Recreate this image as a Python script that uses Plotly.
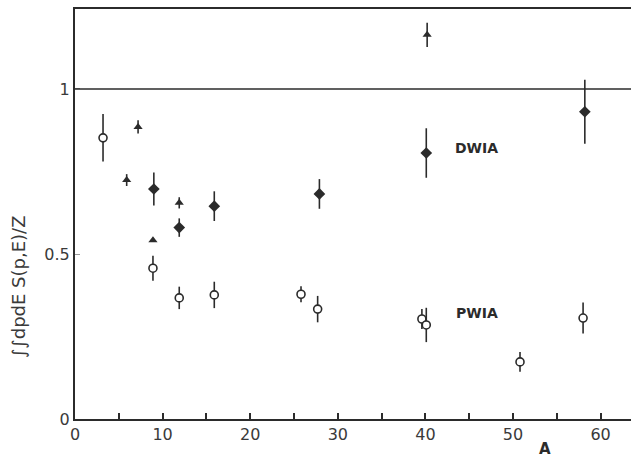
import plotly.graph_objects as go

# PWIA: open circles
pwia_a = [3.2, 8.9, 11.9, 15.9, 25.8, 27.7, 39.6, 40.1, 50.8, 58.0]
pwia_v = [0.852, 0.457, 0.367, 0.376, 0.378, 0.333, 0.303, 0.285, 0.173, 0.306]
pwia_e = [0.072, 0.038, 0.034, 0.040, 0.024, 0.040, 0.030, 0.052, 0.030, 0.047]

# DWIA: filled diamonds
dwia_a = [9.0, 11.9, 15.9, 27.9, 40.1, 58.2]
dwia_v = [0.697, 0.580, 0.645, 0.682, 0.806, 0.931]
dwia_e = [0.050, 0.028, 0.045, 0.045, 0.075, 0.097]

# Additional points: small filled triangles
tri_a = [5.9, 7.2, 8.9, 11.9, 40.2]
tri_v = [0.724, 0.885, 0.542, 0.655, 1.164]
tri_e = [0.018, 0.020, 0.0, 0.017, 0.037]

x_ticks = list(range(0, 65, 5))
x_labels = [str(v) if v % 10 == 0 else "" for v in x_ticks]
y_ticks = [0, 0.5, 1]
y_labels = ["0", "0.5", "1"]

ink = "#2b2b2b"
font = "DejaVu Sans"

def err(vals):
    return dict(type="data", array=vals, visible=True, color=ink,
                thickness=1.6, width=0)

fig = go.Figure()
fig.add_trace(go.Scatter(
    x=pwia_a, y=pwia_v, mode="markers", error_y=err(pwia_e),
    marker=dict(symbol="circle", size=8, color="white",
                line=dict(color=ink, width=1.6)),
    cliponaxis=False))
fig.add_trace(go.Scatter(
    x=dwia_a, y=dwia_v, mode="markers", error_y=err(dwia_e),
    marker=dict(symbol="diamond", size=9, color=ink, line=dict(width=0)),
    cliponaxis=False))
fig.add_trace(go.Scatter(
    x=tri_a, y=tri_v, mode="markers", error_y=err(tri_e),
    marker=dict(symbol="triangle-up", size=8, color=ink, line=dict(width=0)),
    cliponaxis=False))

# Reference line at unity
fig.add_shape(type="line", xref="paper", x0=0, x1=1, yref="y", y0=1, y1=1,
              line=dict(color=ink, width=1.5))

fig.add_annotation(x=45.8, y=0.821, text="<b>DWIA</b>", showarrow=False,
                   font=dict(family=font, size=14, color=ink))
fig.add_annotation(x=45.9, y=0.321, text="<b>PWIA</b>", showarrow=False,
                   font=dict(family=font, size=14, color=ink))
fig.add_annotation(xref="paper", x=-0.1025, y=0.40, text="∫∫dpdE S(p,E)/Z",
                   textangle=-90, showarrow=False, xanchor="center",
                   yanchor="middle",
                   font=dict(family=font, size=18, color="#3a3a3a"))
fig.add_annotation(x=53.7, yref="paper", y=-0.073, text="<b>A</b>",
                   showarrow=False, yanchor="middle",
                   font=dict(family=font, size=15, color=ink))

fig.update_layout(
    width=631, height=460,
    margin=dict(l=75, r=0, t=9, b=41),
    paper_bgcolor="white", plot_bgcolor="white",
    showlegend=False,
    font=dict(family=font, size=16, color="#3a3a3a"),
    xaxis=dict(range=[0, 63.47], tickvals=x_ticks, ticktext=x_labels,
               ticks="inside", ticklen=6, tickwidth=1.5, tickcolor=ink,
               showline=True, linecolor=ink, linewidth=2, mirror=True,
               showgrid=False, zeroline=False),
    yaxis=dict(range=[0, 1.2424], tickvals=y_ticks, ticktext=y_labels,
               ticks="inside", ticklen=5, tickwidth=1, tickcolor="#999",
               showline=True, linecolor=ink, linewidth=2, mirror=False,
               showgrid=False, zeroline=False),
)

fig.write_html("out.html")
